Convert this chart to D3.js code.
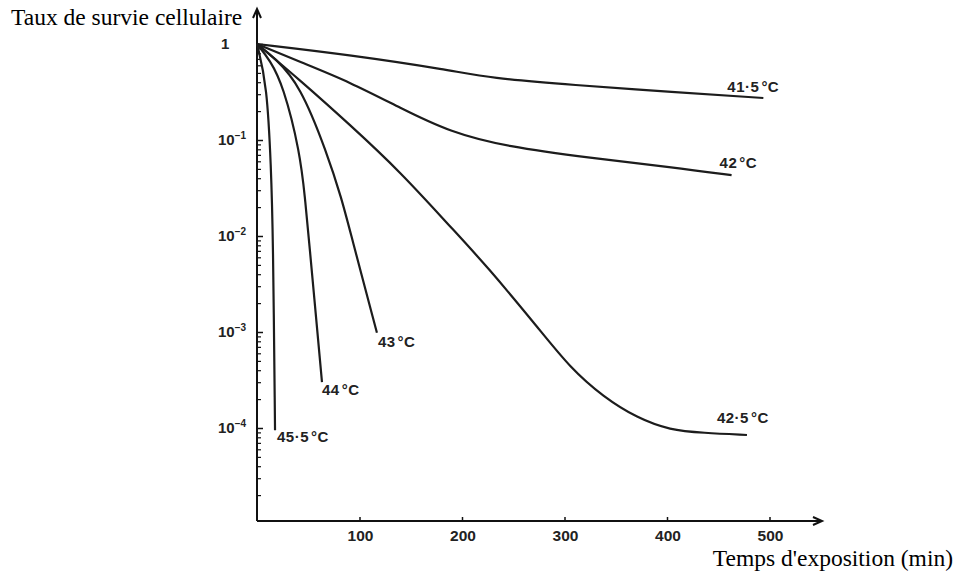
<!DOCTYPE html>
<html>
<head>
<meta charset="utf-8">
<script src="https://cdn.jsdelivr.net/npm/d3@7"></script>
<style>
  body { margin: 0; background: #fff; }
  .title { font-family: 'Liberation Serif', 'Times New Roman', serif; font-size: 23.5px; fill: #000; }
  .lab { font-family: 'Liberation Sans', Arial, sans-serif; font-weight: bold; fill: #222; }
  .curve { fill: none; stroke: #1c1c1c; stroke-width: 2.2; }
  .axis line, .axis path { stroke: #111; }
</style>
</head>
<body>
<svg id="chart" width="955" height="574"></svg>
<script>
// exposure times (min) and survival fractions
var t415 = [0, 91, 188, 227, 308, 406, 494];
var s415 = [1, 0.77, 0.536, 0.442, 0.374, 0.316, 0.274];

var t42 = [0, 42, 91, 140, 188, 244, 325, 406, 463];
var s42 = [1, 0.65, 0.40, 0.215, 0.121, 0.085, 0.065, 0.052, 0.043];

var t425 = [0, 42, 91, 140, 188, 224, 276, 305, 338, 371, 403, 435, 478];
var s425 = [1, 0.42, 0.143, 0.0464, 0.0127, 0.0049, 0.00105, 0.00043, 0.00021, 0.000127, 0.000095, 0.000089, 0.0000845];

var t43 = [0, 17.6, 42, 68, 83, 91, 117];
var s43 = [1, 0.715, 0.374, 0.075, 0.0237, 0.011, 0.00098];

var t44 = [0, 12.7, 25.4, 42, 47, 50, 63.4];
var s44 = [1, 0.68, 0.374, 0.075, 0.0237, 0.011, 0.0003];

var t455 = [0, 9.8, 13.7, 15.6, 17.6];
var s455 = [1, 0.374, 0.051, 0.011, 0.000095];

var curveNames = ['41·5', '42', '42·5', '43', '44', '45·5'];
var curveTimes = [t415, t42, t425, t43, t44, t455];
var curveSurv = [s415, s42, s425, s43, s44, s455];
// label offset from the end of each curve
var labelDx = [-36, -12, -30, 1, 0, 2];
var labelDy = [-6, -7, -12, 14, 13, 12];

var xTicks = [100, 200, 300, 400, 500];
var yDecades = [1, 1e-1, 1e-2, 1e-3, 1e-4];
var yDecadeLabels = ['', '−1', '−2', '−3', '−4'];

var originX = 257;
var axisY = 521;

var x = d3.scaleLinear()
    .domain([0, 500])
    .range([originX, 769.5]);

var y = d3.scaleLog()
    .domain([1e-5, 1])
    .range([524, 44]);

var svg = d3.select('#chart');

// minor ticks of the log axis
var minor = [];
for (var k = -5; k <= -1; k++) {
  for (var m = 2; m <= 9; m++) minor.push(m * Math.pow(10, k));
}

svg.append('g')
    .attr('class', 'axis')
    .attr('transform', 'translate(' + originX + ',0)')
    .call(d3.axisRight(y).tickValues(minor).tickSize(4).tickFormat(''))
    .call(function(g) { g.select('.domain').remove(); })
    .selectAll('line').attr('stroke-width', 1.2);

svg.append('g')
    .attr('class', 'axis')
    .attr('transform', 'translate(' + originX + ',0)')
    .call(d3.axisRight(y).tickValues(yDecades).tickSize(6).tickFormat(''))
    .call(function(g) { g.select('.domain').remove(); })
    .selectAll('line').attr('stroke-width', 1.5);

svg.append('g')
    .attr('class', 'axis')
    .attr('transform', 'translate(0,' + axisY + ')')
    .call(d3.axisTop(x).tickValues(xTicks).tickSize(4).tickFormat(''))
    .call(function(g) { g.select('.domain').remove(); })
    .selectAll('line').attr('stroke-width', 1.5);

// axis lines with arrows
svg.append('path')
    .attr('d', 'M' + originX + ',' + axisY + 'V10 M' + (originX - 4) + ',18 L' + originX + ',9 L' + (originX + 4) + ',18')
    .attr('fill', 'none').attr('stroke', '#111').attr('stroke-width', 2);

svg.append('path')
    .attr('d', 'M' + originX + ',' + axisY + 'H821 M813,' + (axisY - 4) + ' L822,' + axisY + ' L813,' + (axisY + 4))
    .attr('fill', 'none').attr('stroke', '#111').attr('stroke-width', 2);

// tick labels
svg.selectAll('.xlab')
    .data(xTicks)
    .enter().append('text')
    .attr('class', 'lab')
    .attr('x', function(d) { return x(d) + 1; })
    .attr('y', 541)
    .attr('text-anchor', 'middle')
    .attr('font-size', 15.5)
    .text(function(d) { return d; });

var ylab = svg.selectAll('.ylab')
    .data(yDecades)
    .enter().append('text')
    .attr('class', 'lab')
    .attr('x', function(d) { return d === 1 ? 221 : 218; })
    .attr('y', function(d) { return y(d); })
    .attr('dy', '0.35em')
    .attr('font-size', 15);

ylab.append('tspan')
    .text(function(d) { return d === 1 ? '1' : '10'; });
ylab.append('tspan')
    .attr('font-size', 10)
    .attr('dy', -6)
    .text(function(d, i) { return yDecadeLabels[i]; });

// survival curves
var line = d3.line()
    .x(function(d) { return x(d[0]); })
    .y(function(d) { return y(d[1]); })
    .curve(d3.curveBasis);

curveNames.forEach(function(name, i) {
  var pts = curveTimes[i].map(function(t, j) { return [t, curveSurv[i][j]]; });
  svg.append('path')
      .datum(pts)
      .attr('class', 'curve')
      .attr('d', line);

  var last = pts[pts.length - 1];
  var lab = svg.append('text')
      .attr('class', 'lab')
      .attr('x', x(last[0]) + labelDx[i])
      .attr('y', y(last[1]) + labelDy[i])
      .attr('font-size', 15)
      .attr('letter-spacing', 0.5);
  lab.append('tspan').text(name);
  lab.append('tspan').attr('dx', 2).text('°C');
});

// axis titles
svg.append('text')
    .attr('class', 'title')
    .attr('x', 11)
    .attr('y', 25)
    .text('Taux de survie cellulaire');

svg.append('text')
    .attr('class', 'title')
    .attr('x', 953)
    .attr('y', 566)
    .attr('text-anchor', 'end')
    .text("Temps d'exposition (min)");
</script>
</body>
</html>
